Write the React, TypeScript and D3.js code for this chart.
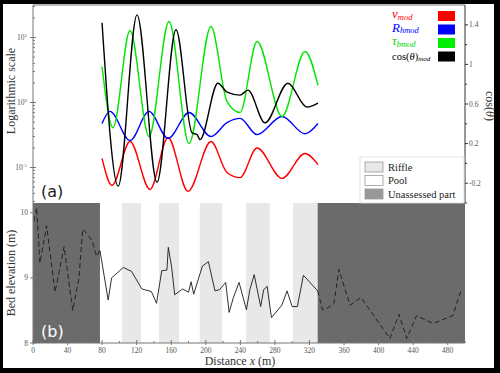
import React from 'react';
import * as d3 from 'd3';

// ---- Top panel (a): modelled variables along distance (m) ----
const vDist = [79.9, 91.4, 112.3, 135.4, 156.3, 179.4, 206, 224.5, 239.6, 259.3, 288.2, 314.8, 329.9];
const vVals = [0.138, 0.053, 0.251, 0.046, 0.29, 0.043, 0.251, 0.084, 0.07, 0.2, 0.068, 0.164, 0.111];

const rhDist = [79.9, 89.1, 112.3, 134.3, 156.3, 180.6, 206, 224.5, 239.6, 259.3, 288.2, 314.8, 329.9];
const rhVals = [0.475, 0.73, 0.26, 0.73, 0.28, 0.7, 0.3, 0.49, 0.57, 0.32, 0.61, 0.33, 0.475];

const tauDist = [79.9, 92.6, 112.3, 134.3, 157.4, 180.6, 206, 224.5, 239.6, 259.3, 288.2, 314.8, 329.9];
const tauVals = [3.58, 0.41, 12.8, 0.3, 17.6, 0.234, 14.8, 1.04, 0.7, 8.7, 0.61, 6.1, 1.83];

const cosDist = [79.9, 98.6, 120.4, 143.5, 165.5, 184, 190, 193.3, 214, 224.5, 239.6, 248.8, 268.5, 295, 317, 329.9];
const cosVals = [1.42, -0.23, 1.5, -0.19, 1.35, 0.31, 0.29, 0.24, 0.81, 0.72, 0.69, 0.74, 0.41, 0.81, 0.57, 0.61];

const cosTicks = [1.4, 1, 0.6, 0.2, -0.2];
const cosMinor = [1.2, 0.8, 0.4, 0, -0.4];
const logTickExps = [1, 0, -1];

// ---- Bottom panel (b): bed elevation ----
const bedDist = [1, 4.2, 8, 15.8, 25.5, 36, 46, 53.2, 57.5, 64, 68, 73.7, 77.5, 87, 91, 104.5, 114, 126, 137, 143, 149, 155, 156.6, 160.5, 164, 173, 180, 183, 186, 196, 203, 210.6, 216, 223, 227, 232, 238.5, 247, 251, 256, 263.5, 267, 271, 276, 288, 294, 300, 306, 313, 329.5, 335, 342.6, 348.4, 354, 367, 379.6, 413, 423.6, 432.5, 444, 463, 485.8, 495];
const bedElev = [9.87, 10.08, 9.23, 9.8, 8.78, 9.48, 8.5, 9.0, 9.75, 9.65, 9.58, 9.33, 9.42, 8.66, 9.0, 9.16, 9.1, 8.83, 8.79, 8.61, 9.11, 9.12, 9.47, 9.16, 8.74, 8.83, 8.78, 8.94, 8.75, 9.18, 9.25, 8.8, 8.82, 8.93, 8.47, 8.7, 8.93, 8.51, 8.82, 9.05, 8.56, 8.82, 8.87, 8.39, 8.58, 8.8, 8.56, 8.56, 9.04, 8.8, 8.51, 8.55, 8.61, 9.13, 8.58, 8.7, 8.07, 8.44, 8.07, 8.42, 8.3, 8.42, 8.79];

const riffleStart = [103, 146, 193, 246.5, 301];
const riffleEnd = [125, 169, 219, 274, 329.5];
const unassessedStart = [0, 329.5];
const unassessedEnd = [77.5, 500];

const xTicks = [0, 40, 80, 120, 160, 200, 240, 280, 320, 360, 400, 440, 480];
const xMinor = [20, 60, 100, 140, 180, 220, 260, 300, 340, 380, 420, 460, 500];
const bedTicks = [10, 9, 8];
const bedMinor = [9.8, 9.6, 9.4, 9.2, 8.8, 8.6, 8.4, 8.2];

const regionLabels = ['Riffle', 'Pool', 'Unassessed part'];
const regionFills = ['#e8e8e8', '#ffffff', '#999999'];

const SERIF = '"Liberation Serif", "DejaVu Serif", serif';
const AX = '#777';
const TL = '#555';

export default function App() {
  const L = 33, R = 465, T = 5, MID = 203, B = 343;
  const x = d3.scaleLinear().domain([0, 500]).range([L, R]);
  const yLog = d3.scaleLog().domain([Math.pow(10, -1.546), Math.pow(10, 1.5)]).range([MID, T]);
  const yCos = d3.scaleLinear().domain([-0.4, 1.6]).range([MID, T]);
  const yBed = d3.scaleLinear().domain([8, 10.15]).range([B, MID]);

  const logLine = d3.line<[number, number]>().x(d => x(d[0])).y(d => yLog(d[1])).curve(d3.curveMonotoneX);
  const cosLine = d3.line<[number, number]>().x(d => x(d[0])).y(d => yCos(d[1])).curve(d3.curveMonotoneX);
  const bedLine = d3.line<[number, number]>().x(d => x(d[0])).y(d => yBed(d[1]));

  const zip = (a: number[], b: number[]) => a.map((v, i) => [v, b[i]] as [number, number]);
  const bed = zip(bedDist, bedElev);
  const a0 = unassessedEnd[0], a1 = unassessedStart[1];
  const bedLeft = bed.filter(d => d[0] <= a0);
  const bedMid = bed.filter(d => d[0] >= a0 && d[0] <= a1);
  const bedRight = bed.filter(d => d[0] >= a1);

  const logMinor: number[] = [];
  for (let e = -2; e <= 1; e++) for (let k = 2; k <= 9; k++) {
    const v = k * Math.pow(10, e);
    if (v >= yLog.domain()[0] && v <= yLog.domain()[1]) logMinor.push(v);
  }

  const series = [
    { d: zip(vDist, vVals), c: '#ff0000', log: true },
    { d: zip(rhDist, rhVals), c: '#0000ff', log: true },
    { d: zip(tauDist, tauVals), c: '#00e600', log: true },
    { d: zip(cosDist, cosVals), c: '#000000', log: false },
  ];

  const legendY = [11, 24.5, 38, 51.5];
  const legendColors = ['#ff0000', '#0000ff', '#00ee00', '#000000'];

  return (
    <svg width={500} height={373} style={{ position: 'absolute', left: 0, top: 0 }} fontFamily={SERIF}>
      <rect x={0} y={0} width={500} height={373} fill="#000" />
      <rect x={3} y={4} width={491} height={364} fill="#fff" />

      {/* bottom panel background */}
      {riffleStart.map((s, i) => (
        <rect key={'r' + i} x={x(s)} y={MID} width={x(riffleEnd[i]) - x(s)} height={B - MID} fill="#e8e8e8" />
      ))}
      {unassessedStart.map((s, i) => (
        <rect key={'u' + i} x={x(s)} y={MID} width={x(unassessedEnd[i]) - x(s)} height={B - MID} fill="#6b6b6b" />
      ))}

      {/* bed line */}
      <path d={bedLine(bedLeft) || ''} fill="none" stroke="#1a1a1a" strokeWidth={0.9} strokeDasharray="5,3" />
      <path d={bedLine(bedMid) || ''} fill="none" stroke="#1a1a1a" strokeWidth={0.9} />
      <path d={bedLine(bedRight) || ''} fill="none" stroke="#1a1a1a" strokeWidth={0.9} strokeDasharray="5,3" />

      {/* top panel curves */}
      {series.map((s, i) => (
        <path key={'s' + i} d={(s.log ? logLine(s.d) : cosLine(s.d)) || ''} fill="none" stroke={s.c} strokeWidth={1.4} />
      ))}

      {/* frame lines */}
      <line x1={L} x2={R} y1={T} y2={T} stroke={AX} strokeWidth={1} />
      <line x1={L} x2={L} y1={T} y2={B} stroke={AX} strokeWidth={1} />
      <line x1={R} x2={R} y1={T} y2={MID} stroke="#333" strokeWidth={1} />
      <line x1={L} x2={R} y1={B} y2={B} stroke={AX} strokeWidth={1} />

      {/* left log axis */}
      {logTickExps.map(e => (
        <g key={'le' + e}>
          <line x1={L - 3} x2={L + 3} y1={yLog(Math.pow(10, e))} y2={yLog(Math.pow(10, e))} stroke={AX} />
          <text x={L - 6} y={yLog(Math.pow(10, e)) + 2} fontSize={7.5} fill={TL} textAnchor="end">
            10<tspan dy={-3} fontSize={5}>{e}</tspan>
          </text>
        </g>
      ))}
      {logMinor.map((v, i) => (
        <line key={'lm' + i} x1={L} x2={L + 2} y1={yLog(v)} y2={yLog(v)} stroke={AX} />
      ))}

      {/* right cos axis */}
      {cosTicks.map(v => (
        <g key={'ct' + v}>
          <line x1={R} x2={R + 3} y1={yCos(v)} y2={yCos(v)} stroke="#333" />
          <text x={R + 4} y={yCos(v) + 2.5} fontSize={7.5} fill={TL}>{v < 0 ? '-' + Math.abs(v) : String(v)}</text>
        </g>
      ))}
      {cosMinor.map(v => (
        <line key={'cm' + v} x1={R} x2={R + 2} y1={yCos(v)} y2={yCos(v)} stroke="#333" />
      ))}

      {/* bottom axes */}
      {bedTicks.map(v => (
        <g key={'bt' + v}>
          <line x1={L - 3} x2={L + 3} y1={yBed(v)} y2={yBed(v)} stroke={AX} />
          <text x={L - 5} y={yBed(v) + 2.5} fontSize={7.5} fill={TL} textAnchor="end">{v}</text>
        </g>
      ))}
      {bedMinor.map(v => (
        <line key={'bm' + v} x1={L} x2={L + 2} y1={yBed(v)} y2={yBed(v)} stroke={AX} />
      ))}
      {xTicks.map(v => (
        <g key={'xt' + v}>
          <line x1={x(v)} x2={x(v)} y1={B - 3} y2={B + 2} stroke={AX} />
          <text x={x(v)} y={B + 10} fontSize={7.5} fill={TL} textAnchor="middle">{v}</text>
        </g>
      ))}
      {xMinor.map(v => (
        <line key={'xm' + v} x1={x(v)} x2={x(v)} y1={B - 2} y2={B} stroke={AX} />
      ))}

      {/* axis titles */}
      <text transform="translate(15,91) rotate(-90)" textAnchor="middle" fontSize={12} fill="#333">Logarithmic scale</text>
      <text transform="translate(15,273) rotate(-90)" textAnchor="middle" fontSize={12} fill="#333">Bed elevation (m)</text>
      <text transform="translate(486,106) rotate(90)" textAnchor="middle" fontSize={12} fill="#333">cos(<tspan fontStyle="italic">θ</tspan>)</text>
      <text x={240} y={365} textAnchor="middle" fontSize={12} fill="#333">Distance <tspan fontStyle="italic">x</tspan> (m)</text>

      {/* panel labels */}
      <text x={41} y={197} fontSize={16} fontFamily="'DejaVu Sans', sans-serif" fill="#222">(a)</text>
      <text x={41} y={337} fontSize={16} fontFamily="'DejaVu Sans', sans-serif" fill="#fff">(b)</text>

      {/* series legend */}
      <text x={392} y={legendY[0] + 7} fontSize={13} fill="#ff0000" fontStyle="italic">v<tspan dy={1.5} fontSize={8.5}>mod</tspan></text>
      <text x={392} y={legendY[1] + 7} fontSize={13} fill="#0000ff" fontStyle="italic">R<tspan dy={1.5} fontSize={8.5}>hmod</tspan></text>
      <text x={392} y={legendY[2] + 7} fontSize={13} fill="#00dd00" fontStyle="italic">τ<tspan dy={1.5} fontSize={8.5}>bmod</tspan></text>
      <text x={392} y={legendY[3] + 8} fontSize={10.5} fill="#000">cos(<tspan fontStyle="italic">θ</tspan>)<tspan dy={1.5} fontSize={7} fontStyle="italic">mod</tspan></text>
      {legendColors.map((c, i) => (
        <rect key={'lg' + i} x={438} y={legendY[i]} width={17} height={10} fill={c} />
      ))}

      {/* region legend */}
      <rect x={360} y={157} width={104} height={46} fill="#fff" stroke="#ddd" strokeWidth={0.8} />
      {regionLabels.map((lab, i) => (
        <g key={'rl' + i}>
          <rect x={365} y={162 + i * 13.5} width={18} height={10} fill={regionFills[i]} stroke="#999" strokeWidth={0.8} />
          <text x={388} y={170.5 + i * 13.5} fontSize={10.5} fill="#222">{lab}</text>
        </g>
      ))}
    </svg>
  );
}
